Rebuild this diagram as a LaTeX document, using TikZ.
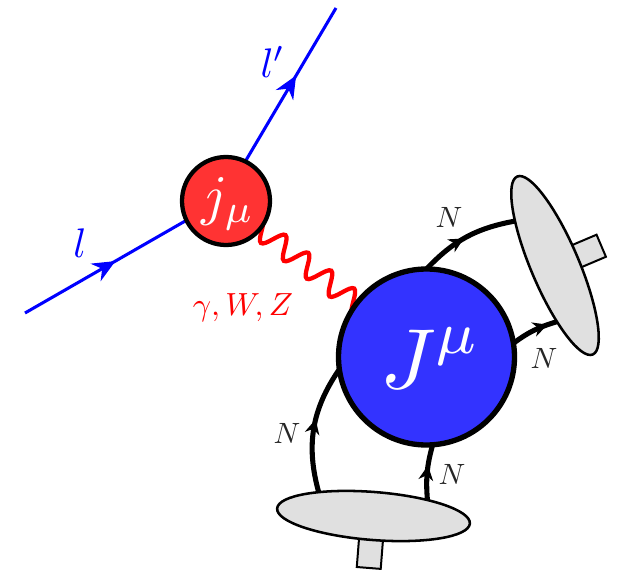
\documentclass[tikz,border=0pt]{standalone}
\usetikzlibrary{arrows.meta,decorations.markings,decorations.pathmorphing,shapes.geometric}
\definecolor{fillred}{HTML}{FF3333}
\definecolor{fillblue}{HTML}{3333FF}
\definecolor{softgrey}{HTML}{E0E0E0}
\pgfdeclarelayer{back}
\pgfsetlayers{back,main}
\tikzset{
  lepton/.style={draw=blue,line width=2.3pt,postaction={decorate},decoration={markings,mark=at position #1 with {\arrow[blue]{Stealth[length=17pt,width=15pt]}}}},
  nucleon/.style={draw=black,line width=3.8pt,postaction={decorate},decoration={markings,mark=at position #1 with {\arrow[black]{Stealth[length=11pt,width=11pt]}}}},
  photon/.style={draw=red,line width=3.2pt,decorate,decoration={snake,amplitude=8pt,segment length=21.75pt}},
  blob/.style={draw=black,line width=1.9pt,fill=softgrey,ellipse,inner sep=0pt,outer sep=0pt,minimum width=145pt,minimum height=36pt},
  stem/.style={draw=black,line width=1.5pt,fill=softgrey,rectangle,inner sep=0pt,outer sep=0pt,minimum width=18pt,minimum height=24pt},
  vertexred/.style={circle,draw=black,line width=3.2pt,fill=fillred,inner sep=0pt,outer sep=0pt,minimum size=66pt},
  vertexblue/.style={circle,draw=black,line width=4pt,fill=fillblue,inner sep=0pt,outer sep=0pt,minimum size=132pt},
  nlabel/.style={inner sep=0pt,scale=2.2,text=black!85},
}
\begin{document}
\begin{tikzpicture}[x=0.75pt,y=-0.75pt]
\useasboundingbox (0,0) rectangle (624,570);
\node[vertexred] (red) at (226,201) {};
\node[vertexblue] (big) at (426.5,357) {};
\node[blob,rotate=-67] (upper) at (555,265.5) {};
\node[blob,rotate=-4.5] (lower) at (373.5,516) {};
\coordinate (lin) at (25,313);
\coordinate (lout) at (336,8);
\begin{pgfonlayer}{back}
\node[stem,rotate=-67] (stemU) at (586.5,252) {};
\node[stem,rotate=-4.5] (stemL) at (370,552) {};
\draw[lepton=0.56] (lin) -- (red.206);
\draw[lepton=0.56] (red.64.5) -- (lout);
\draw[photon] ([yshift=-1pt]red.center) -- ([yshift=-1pt]big.center);
\draw[nucleon=0.57] (lower.161) to[bend left=25] (big.188);
\draw[nucleon=0.62] (lower.21) to[bend left=10] (big.-86);
\draw[nucleon=0.47] (big.90) to[bend left=18] (upper.199.6);
\draw[nucleon=0.8] (big.9) to[bend left=10] (upper.-21);
\end{pgfonlayer}
\node[inner sep=0pt,scale=4.2,text=white] (jlabel) at (228,204) {$j_\mu$};
\node[inner sep=0pt,scale=6.4,text=white] (Jlabel) at (431,358) {$\displaystyle J^\mu$};
\node[inner sep=0pt,scale=3.1,text=blue] (llabel) at (80,243) {$l$};
\node[inner sep=0pt,scale=3.1,text=blue] (lplabel) at (273,62) {$l'$};
\node[inner sep=0pt,scale=2.4,text=red] (gauge) at (243,308) {$\gamma,W,Z$};
\node[nlabel] (n1) at (449,217) {$N$};
\node[nlabel] (n2) at (544,358) {$N$};
\node[nlabel] (n3) at (287,433) {$N$};
\node[nlabel] (n4) at (452,474) {$N$};
\end{tikzpicture}
\end{document}
